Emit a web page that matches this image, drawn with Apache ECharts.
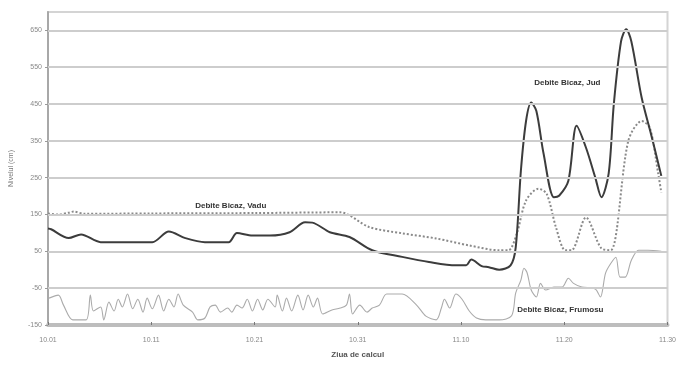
<!DOCTYPE html>
<html>
<head>
<meta charset="utf-8">
<script src="https://cdn.jsdelivr.net/npm/echarts@6/dist/echarts.min.js"></script>
<style>
  html, body { margin: 0; padding: 0; background: #fff; }
  #chart { width: 679px; height: 365px; }
</style>
</head>
<body>
<div id="chart"></div>
<script>
// x = days since Oct 1
const xTickLabels = ['10.01', '10.11', '10.21', '10.31', '11.10', '11.20', '11.30'];
const yTicks = [-150, -50, 50, 150, 250, 350, 450, 550, 650];

const judDays = [0, 0.3, 2, 3.2, 5.1, 10.1, 11.7, 13.3, 15.2, 17.5, 18.3, 19.8, 21.5, 23.4, 24.9, 25.6,
  27.3, 29.2, 31.4, 34.3, 36.9, 39.5, 40.5, 41, 42, 42.7, 43.7, 44.8, 45.3, 45.8, 46.3, 46.8, 47.3, 48,
  49, 49.5, 50.4, 51.2, 52.1, 53, 53.6, 54.3, 54.8, 55.5, 56, 56.5, 57.5, 58.4, 59.4];
const judVals = [112, 110, 86, 96, 75, 75, 104, 86, 75, 75, 100, 93, 93, 102, 129, 128,
  102, 89, 53, 35, 21, 12, 12, 28, 10, 7, 0, 12, 61, 269, 404, 454, 431, 315,
  197, 201, 242, 391, 332, 251, 197, 261, 450, 620, 653, 620, 467, 369, 255];

const vaduDays = [0, 1, 2, 2.5, 3.5, 10, 20, 28.3, 31.1, 34.3, 37.6, 40.8, 43.7, 44.6, 45.4, 46.3, 47.5,
  48.3, 49.2, 50.1, 50.7, 52.1, 53.6, 54.5, 56.2, 57.5, 58.3, 59.1, 59.4];
const vaduVals = [153, 150, 155, 158, 152, 153, 154, 156, 116, 99, 85, 66, 53, 53, 98, 188, 220,
  206, 115, 53, 53, 142, 58, 53, 350, 404, 385, 261, 210];

const frumDays = [0.1, 1, 1.5, 2.4, 3.7, 4.1, 4.4, 5.1, 5.4, 5.9, 6.4, 6.8, 7.2, 7.7, 8.2, 8.7, 9.2, 9.6,
  10.1, 10.7, 11.2, 11.7, 12.2, 12.6, 13.1, 14, 14.5, 15.2, 15.7, 16.2, 16.7, 17.4, 17.8, 18.3, 18.8,
  19.3, 19.8, 20.3, 20.8, 21.3, 22, 22.2, 22.7, 23.1, 23.6, 24.2, 24.7, 25.2, 25.7, 26.1, 26.6, 27.5,
  28.3, 28.9, 29.2, 29.5, 30.2, 30.9, 31.4, 32.1, 32.8, 34.3, 35.7, 36.6, 37.6, 38.1, 38.4, 38.9, 39.5,
  40.1, 40.8, 41.5, 42.4, 43.7, 44.9, 45.3, 45.8, 46.1, 46.4, 46.8, 47.3, 47.7, 48.2, 49, 49.8, 50.4,
  50.9, 51.7, 53, 53.5, 54, 54.5, 55, 55.4, 55.9, 56.5, 57.2, 58.1, 59.4];
const frumVals = [-77, -69, -96, -136, -136, -69, -112, -101, -136, -88, -112, -80, -101, -66, -106, -80, -115, -77,
  -106, -69, -112, -80, -101, -66, -96, -115, -136, -131, -101, -96, -115, -104, -115, -96, -104,
  -80, -112, -80, -109, -80, -101, -69, -112, -77, -112, -69, -109, -69, -101, -77, -120, -109,
  -104, -96, -66, -120, -96, -115, -104, -96, -66, -66, -96, -126, -136, -104, -80, -104, -66,
  -80, -112, -131, -136, -136, -125, -63, -28, 4, -8, -55, -74, -37, -55, -47, -47, -23,
  -37, -47, -52, -74, -9, 17, 34, -20, -20, 26, 53, 53, 50];

const seriesNames = ['Debite Bicaz, Vadu', 'Debite Bicaz, Jud', 'Debite Bicaz, Frumosu'];

const zip = (xs, ys) => xs.map((x, i) => [x, ys[i]]);
const labelFont = { fontFamily: 'Liberation Sans', fontSize: 8, fontWeight: 'bold', color: '#333' };

// text tag anchored in data space
const tag = (text, coord, align) => ({
  symbol: 'circle', symbolSize: 1, silent: true,
  itemStyle: { color: 'rgba(0,0,0,0)' },
  label: { show: true, position: align === 'left' ? 'right' : 'inside', distance: 0, formatter: text, ...labelFont },
  data: [{ coord }]
});

const chart = echarts.init(document.getElementById('chart'));
chart.setOption({
  backgroundColor: '#fff',
  animation: false,
  grid: { left: 47, right: 9, top: 12, bottom: 40, show: true, borderColor: '#d4d4d4', borderWidth: 2 },
  xAxis: {
    type: 'value', min: 0, max: 60, interval: 10,
    name: 'Ziua de calcul', nameLocation: 'middle', nameGap: 26,
    nameTextStyle: { fontFamily: 'Liberation Sans', fontSize: 8, fontWeight: 'bold', color: '#555' },
    axisLine: { onZero: false, lineStyle: { color: '#bdbdbd', width: 4 } },
    axisTick: { inside: true, length: 3, lineStyle: { color: '#777' } },
    axisLabel: { fontFamily: 'Liberation Sans', fontSize: 7, color: '#888', margin: 12,
      formatter: (v) => xTickLabels[Math.round(v / 10)] },
    splitLine: { show: false }
  },
  yAxis: {
    type: 'value', min: -150, max: 700,
    name: 'Nivelul (cm)', nameLocation: 'middle', nameGap: 33,
    nameTextStyle: { fontFamily: 'Liberation Sans', fontSize: 7, color: '#777' },
    axisLine: { show: true, onZero: false, lineStyle: { color: '#a8a8a8', width: 2 } },
    axisTick: { show: true, length: 3, customValues: yTicks, lineStyle: { color: '#999' } },
    axisLabel: { fontFamily: 'Liberation Sans', fontSize: 7, color: '#888', margin: 6, customValues: yTicks },
    splitLine: { show: false }
  },
  series: [
    {
      type: 'line', data: [], silent: true, z: 1,
      markLine: {
        silent: true, symbol: 'none', label: { show: false },
        lineStyle: { color: '#cdcdcd', width: 2, type: 'solid' },
        data: yTicks.slice(1).map(v => ({ yAxis: v }))
      }
    },
    {
      name: seriesNames[0], type: 'line', data: zip(vaduDays, vaduVals), smooth: 0.3, showSymbol: false, z: 3,
      lineStyle: { color: '#8a8a8a', width: 2, type: 'dotted' },
      markPoint: tag(seriesNames[0], [17.7, 174])
    },
    {
      name: seriesNames[1], type: 'line', data: zip(judDays, judVals), smooth: 0.3, showSymbol: false, z: 4,
      lineStyle: { color: '#3c3c3c', width: 2 },
      markPoint: tag(seriesNames[1], [50.3, 507])
    },
    {
      name: seriesNames[2], type: 'line', data: zip(frumDays, frumVals), smooth: 0.3, showSymbol: false, z: 2,
      lineStyle: { color: '#ababab', width: 1.1 },
      markPoint: tag(seriesNames[2], [45.4, -110], 'left')
    }
  ]
});
</script>
</body>
</html>
